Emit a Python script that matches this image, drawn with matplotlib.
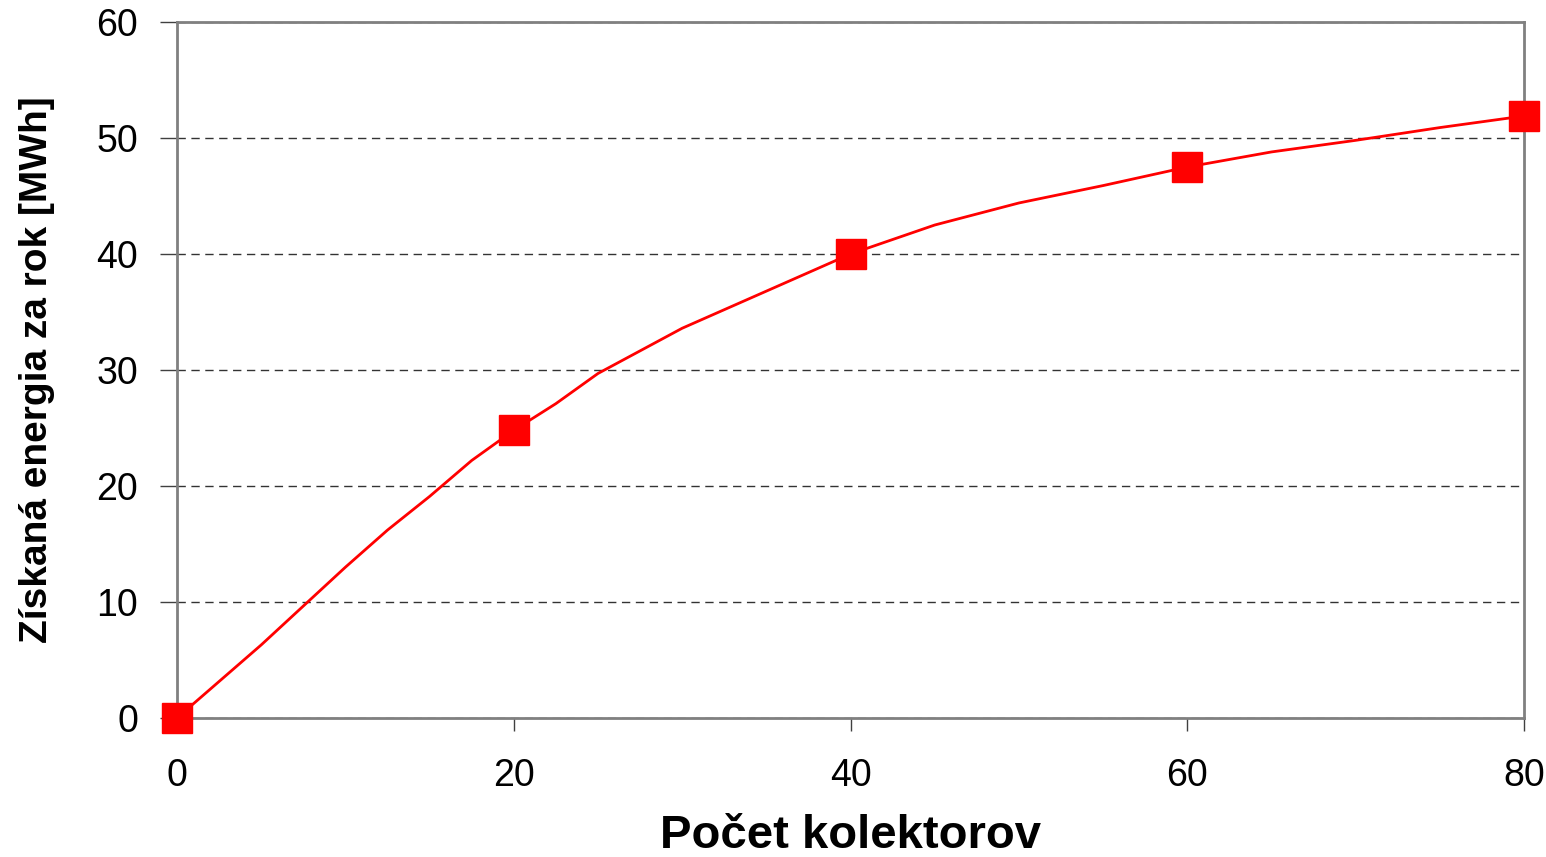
import matplotlib.pyplot as plt

# pocet kolektorov vs. ziskana energia
kolektory = [0, 5, 10, 12.5, 15, 17.5, 20, 22.5, 25, 30, 35, 40, 45, 50, 55, 60, 65, 70, 75, 80]
energia = [0, 6.3, 13.0, 16.2, 19.1, 22.2, 24.8, 27.1, 29.7, 33.6, 36.8, 40.0, 42.5, 44.4, 45.9, 47.5, 48.8, 49.8, 50.9, 51.9]
body_x = [0, 20, 40, 60, 80]
body_y = [0, 24.8, 40.0, 47.5, 51.9]

plt.rcParams['font.family'] = ['Liberation Sans', 'DejaVu Sans']

fig = plt.figure(figsize=(15.46, 8.57), dpi=100)
ax = fig.add_axes([0.1145, 0.1622, 0.8713, 0.8121])

ax.plot(kolektory, energia, color='#ff0000', lw=2, clip_on=False, zorder=3)
ax.plot(body_x, body_y, ls='none', marker='s', ms=21.5, color='#ff0000',
        clip_on=False, zorder=4)

ax.set_xlim(0, 80)
ax.set_ylim(0, 60)
ax.set_xticks([0, 20, 40, 60, 80])
ax.set_yticks(range(0, 61, 10))
ax.yaxis.grid(True, ls=(0, (6, 4)), color='#333333', lw=1)

for s in ax.spines.values():
    s.set_color('#808080')
    s.set_linewidth(2)

ax.tick_params(axis='y', length=12, width=1, color='#404040', labelsize=27, pad=16)
ax.tick_params(axis='x', length=9, width=1, color='#404040', labelsize=27, pad=20)

ax.set_xlabel('Počet kolektorov', fontsize=34, fontweight='bold', labelpad=14)
ax.set_ylabel('Získaná energia za rok [MWh]', fontsize=28, fontweight='bold', labelpad=30)

fig.savefig('out.png', dpi=100)
